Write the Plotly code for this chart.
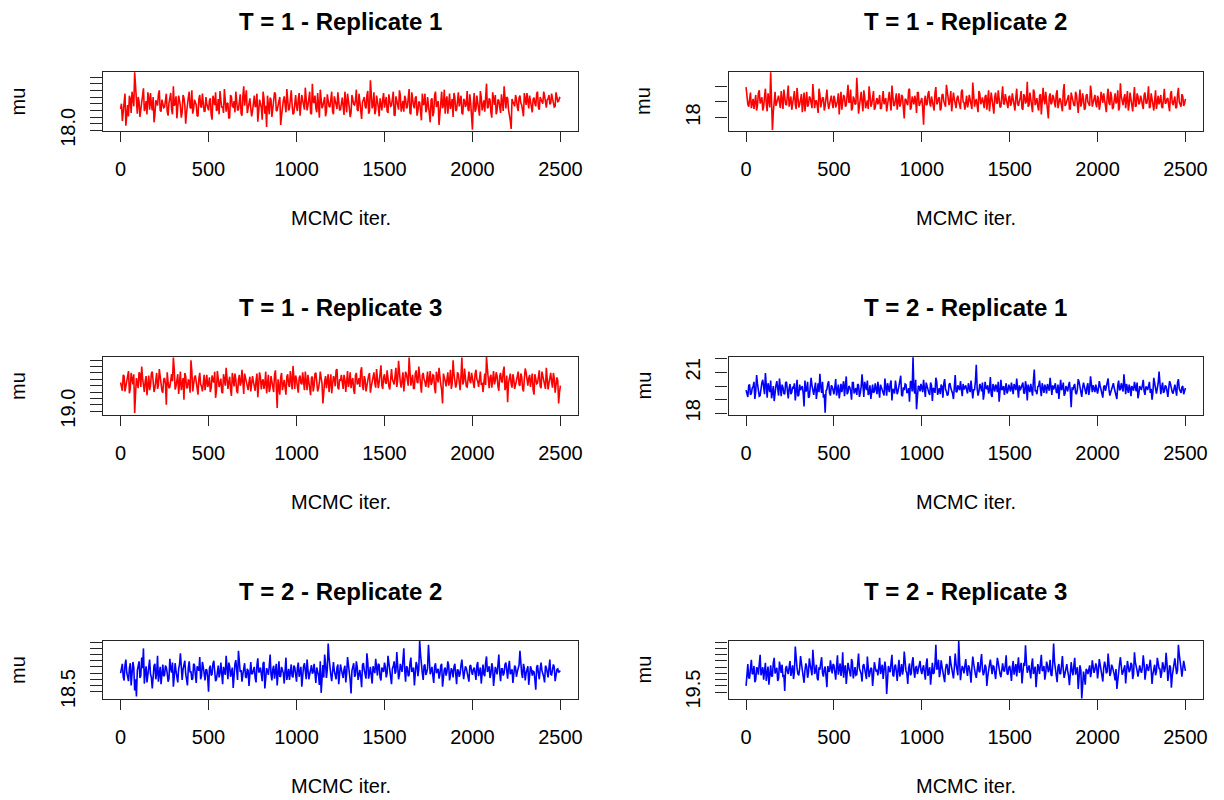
import plotly.graph_objects as go

# MCMC iterations: values at 0,10,...,2500 and 5,15,...,2495
iters_a = list(range(0, 2501, 10))
iters_b = list(range(5, 2500, 10))

titles = ["T = 1 - Replicate 1", "T = 1 - Replicate 2",
          "T = 1 - Replicate 3", "T = 2 - Replicate 1",
          "T = 2 - Replicate 2", "T = 2 - Replicate 3"]

mu_t1_r1_a = [
    18.32, 18.14, 18.45, 18.07, 18.38, 18.52, 18.26, 18.44, 18.87, 18.31, 18.50, 18.20, 18.42, 18.63, 18.34, 18.24, 18.48, 18.56, 18.30, 18.12, 18.45, 18.37, 18.60, 18.28, 18.41,
    18.35, 18.55, 18.22, 18.47, 18.31, 18.66, 18.40, 18.18, 18.52, 18.36, 18.27, 18.49, 18.10, 18.43, 18.58, 18.33, 18.25, 18.46, 18.38, 18.21, 18.53, 18.34, 18.44, 18.29, 18.39,
    18.30, 18.48, 18.16, 18.40, 18.57, 18.32, 18.24, 18.45, 18.36, 18.62, 18.28, 18.41, 18.19, 18.50, 18.35, 18.27, 18.44, 18.31, 18.54, 18.22, 18.66, 18.47, 18.26, 18.42, 18.33,
    18.29, 18.52, 18.37, 18.13, 18.46, 18.34, 18.58, 18.25, 18.05, 18.31, 18.49, 18.20, 18.39, 18.55, 18.30, 18.44, 18.08, 18.36, 18.51, 18.27, 18.42, 18.33, 18.60, 18.24, 18.40,
    18.35, 18.47, 18.22, 18.53, 18.38, 18.64, 18.30, 18.45, 18.26, 18.70, 18.41, 18.33, 18.56, 18.19, 18.44, 18.37, 18.50, 18.28, 18.42, 18.35, 18.58, 18.24, 18.46, 18.32, 18.39,
    18.31, 18.49, 18.23, 18.40, 18.55, 18.34, 18.27, 18.46, 18.38, 18.61, 18.29, 18.43, 18.17, 18.48, 18.36, 18.52, 18.25, 18.75, 18.33, 18.57, 18.30, 18.45, 18.21, 18.39, 18.47,
    18.34, 18.50, 18.26, 18.43, 18.37, 18.58, 18.22, 18.45, 18.31, 18.53, 18.40, 18.28, 18.47, 18.35, 18.62, 18.24, 18.44, 18.33, 18.51, 18.29, 18.42, 18.15, 18.38, 18.55, 18.32,
    18.36, 18.12, 18.48, 18.27, 18.58, 18.40, 18.08, 18.52, 18.33, 18.61, 18.45, 18.25, 18.55, 18.38, 18.20, 18.49, 18.31, 18.57, 18.43, 18.26, 18.47, 18.35, 18.59, 18.29, 18.41,
    18.01, 18.56, 18.32, 18.44, 18.22, 18.50, 18.37, 18.28, 18.70, 18.35, 18.46, 18.19, 18.41, 18.53, 18.30, 18.45, 18.26, 18.38, 18.66, 18.33, 18.48, 18.24, 18.02, 18.43, 18.36,
    18.47, 18.29, 18.52, 18.38, 18.21, 18.44, 18.56, 18.33, 18.41, 18.27, 18.49, 18.36, 18.58, 18.31, 18.45, 18.40, 18.52, 18.34, 18.47, 18.39, 18.55, 18.42, 18.36, 18.50, 18.44,
    18.48]
mu_t1_r1_b = [
    18.40, 18.27, 18.55, 18.33, 18.21, 18.47, 18.58, 18.36, 18.62, 18.25, 18.43, 18.35, 18.52, 18.29, 18.44, 18.57, 18.31, 18.39, 18.50, 18.23, 18.42, 18.54, 18.30, 18.46, 18.34,
    18.48, 18.28, 18.41, 18.56, 18.24, 18.37, 18.51, 18.30, 18.45, 18.19, 18.53, 18.38, 18.27, 18.49, 18.34, 18.60, 18.32, 18.43, 18.22, 18.47, 18.36, 18.55, 18.28, 18.50, 18.33,
    18.45, 18.23, 18.52, 18.38, 18.29, 18.47, 18.59, 18.34, 18.26, 18.49, 18.40, 18.18, 18.53, 18.36, 18.44, 18.58, 18.30, 18.42, 18.25, 18.51, 18.37, 18.60, 18.32, 18.48, 18.21,
    18.43, 18.35, 18.55, 18.28, 18.40, 18.16, 18.48, 18.37, 18.52, 18.24, 18.46, 18.33, 18.57, 18.29, 18.41, 18.50, 18.22, 18.45, 18.35, 18.62, 18.30, 18.47, 18.38, 18.26, 18.53,
    18.29, 18.56, 18.39, 18.45, 18.31, 18.49, 18.37, 18.58, 18.24, 18.43, 18.52, 18.27, 18.40, 18.61, 18.33, 18.47, 18.21, 18.54, 18.36, 18.44, 18.28, 18.51, 18.38, 18.57, 18.30,
    18.44, 18.36, 18.58, 18.27, 18.47, 18.20, 18.53, 18.39, 18.45, 18.31, 18.55, 18.26, 18.42, 18.50, 18.33, 18.59, 18.29, 18.46, 18.38, 18.24, 18.52, 18.35, 18.48, 18.30, 18.56,
    18.41, 18.29, 18.54, 18.36, 18.47, 18.23, 18.51, 18.39, 18.60, 18.28, 18.44, 18.52, 18.33, 18.45, 18.26, 18.57, 18.37, 18.49, 18.22, 18.43, 18.31, 18.55, 18.40, 18.27, 18.50,
    18.30, 18.46, 18.21, 18.53, 18.35, 18.44, 18.27, 18.58, 18.38, 18.25, 18.51, 18.40, 18.32, 18.47, 18.56, 18.29, 18.42, 18.36, 18.52, 18.24, 18.45, 18.39, 18.31, 18.54, 18.22,
    18.40, 18.28, 18.52, 18.36, 18.59, 18.30, 18.45, 18.55, 18.33, 18.48, 18.27, 18.57, 18.38, 18.24, 18.46, 18.35, 18.54, 18.29, 18.42, 18.50, 18.31, 18.15, 18.47, 18.37, 18.53,
    18.35, 18.49, 18.41, 18.30, 18.56, 18.38, 18.45, 18.52, 18.29, 18.47, 18.40, 18.55, 18.34, 18.50, 18.43, 18.58, 18.37, 18.46, 18.53, 18.41, 18.48, 18.35, 18.57, 18.43, 18.49]

mu_t1_r2_a = [
    19.95, 18.85, 19.40, 18.60, 19.20, 19.05, 18.45, 19.55, 18.90, 19.30, 18.70, 19.85, 18.40, 19.15, 20.90, 17.20, 19.35, 18.75, 19.10, 18.95, 19.70, 18.55, 19.25, 18.80, 20.05,
    19.05, 18.50, 19.45, 18.85, 19.90, 18.65, 19.20, 18.35, 19.60, 19.00, 18.70, 19.35, 18.95, 20.15, 18.60, 19.10, 18.30, 19.50, 18.90, 19.25, 18.75, 19.80, 18.55, 19.15, 18.95,
    19.40, 18.65, 19.05, 18.20, 19.65, 18.90, 19.30, 18.80, 20.10, 19.00, 18.45, 19.35, 18.85, 20.55, 18.25, 19.20, 18.95, 19.75, 18.60, 19.10, 20.00, 18.70, 19.25, 18.50, 19.05,
    18.85, 19.45, 18.60, 19.70, 19.10, 18.40, 19.30, 18.95, 20.05, 18.75, 19.20, 18.50, 19.55, 18.90, 19.35, 17.95, 19.15, 18.80, 19.85, 18.65, 19.00, 19.40, 18.30, 19.60, 18.90,
    19.25, 17.55, 19.40, 18.85, 19.70, 18.70, 19.05, 18.45, 19.95, 18.95, 19.30, 18.60, 19.50, 18.80, 20.10, 18.90, 19.15, 18.40, 19.60, 18.75, 19.25, 19.05, 18.55, 19.80, 18.95,
    19.10, 18.65, 19.45, 18.85, 20.25, 18.70, 19.20, 18.35, 19.55, 19.00, 18.80, 19.35, 18.50, 19.75, 18.95, 19.15, 18.25, 19.60, 18.90, 19.30, 18.70, 20.00, 18.85, 19.20, 18.60,
    19.40, 18.95, 19.05, 18.45, 19.85, 18.75, 19.25, 18.60, 19.50, 18.90, 20.30, 18.80, 19.15, 18.35, 19.65, 19.00, 18.70, 19.40, 18.20, 19.90, 18.85, 19.20, 17.95, 19.55, 18.95,
    19.30, 18.65, 19.75, 18.90, 19.10, 18.40, 20.15, 18.85, 19.35, 18.55, 19.60, 19.00, 18.75, 19.45, 18.30, 19.80, 18.95, 19.20, 18.60, 19.50, 18.85, 20.05, 18.70, 19.25, 18.90,
    19.40, 18.50, 19.65, 18.95, 19.15, 18.35, 19.85, 18.80, 19.30, 18.65, 19.55, 19.05, 18.45, 20.20, 18.90, 19.25, 18.60, 19.70, 18.85, 19.10, 18.40, 19.95, 18.75, 19.35, 18.95,
    19.20, 18.55, 19.60, 18.90, 20.00, 18.70, 19.30, 18.45, 19.75, 19.00, 18.85, 19.45, 18.60, 19.85, 18.95, 19.25, 18.40, 19.70, 18.80, 19.35, 18.65, 19.90, 18.85, 19.50, 18.75,
    19.20]
mu_t1_r2_b = [
    19.30, 18.70, 19.60, 19.00, 18.55, 19.45, 18.80, 19.75, 19.10, 18.45, 19.35, 18.90, 19.55, 18.65, 19.25, 18.35, 19.65, 18.95, 19.40, 18.60, 19.15, 19.80, 18.85, 19.45, 18.70,
    19.35, 18.90, 19.70, 18.55, 19.20, 18.85, 19.50, 18.95, 18.40, 19.65, 18.80, 19.25, 18.60, 19.55, 19.05, 18.75, 19.85, 18.65, 19.30, 18.45, 19.60, 19.00, 18.85, 19.40, 18.60,
    19.15, 18.80, 19.55, 19.05, 18.50, 19.45, 18.70, 19.30, 18.95, 19.80, 18.60, 19.20, 18.90, 19.50, 18.75, 19.65, 18.40, 19.35, 19.00, 18.55, 19.45, 18.85, 19.70, 18.65, 19.25,
    19.00, 18.55, 19.40, 18.85, 19.25, 18.95, 19.65, 18.45, 19.30, 18.80, 19.55, 19.00, 18.70, 19.45, 18.60, 19.20, 18.90, 19.75, 18.50, 19.35, 18.85, 19.10, 19.60, 18.75, 19.20,
    18.60, 19.10, 18.80, 19.50, 18.95, 19.35, 18.55, 19.60, 18.85, 19.25, 18.45, 19.45, 19.05, 18.70, 19.55, 18.80, 19.70, 18.95, 19.20, 18.60, 19.40, 18.85, 19.65, 19.00, 18.50,
    19.40, 18.90, 19.10, 18.55, 19.55, 19.00, 18.75, 19.70, 18.85, 19.30, 18.60, 19.45, 19.05, 18.40, 19.60, 18.80, 19.35, 18.95, 19.75, 18.65, 19.20, 18.90, 19.50, 18.70, 19.30,
    18.75, 19.55, 18.60, 19.30, 18.90, 19.05, 19.70, 18.50, 19.35, 19.05, 18.70, 19.60, 18.95, 19.80, 18.80, 19.25, 18.45, 19.50, 18.85, 19.15, 19.65, 18.60, 19.35, 18.85, 19.45,
    18.95, 19.50, 18.60, 19.25, 18.85, 19.70, 18.75, 19.05, 19.45, 18.55, 19.30, 18.80, 19.65, 18.95, 19.15, 18.70, 19.55, 18.50, 19.40, 19.00, 18.75, 19.60, 18.90, 19.45, 18.65,
    19.20, 18.85, 19.05, 19.55, 18.70, 19.40, 18.95, 19.65, 18.55, 19.15, 18.90, 19.75, 18.65, 19.35, 18.80, 19.50, 19.00, 18.45, 19.60, 18.90, 19.25, 18.70, 19.55, 18.85, 19.40,
    18.80, 19.45, 18.95, 19.30, 18.60, 19.55, 18.85, 19.15, 18.55, 19.40, 19.05, 18.70, 19.65, 18.90, 19.20, 18.75, 19.50, 18.95, 19.10, 18.60, 19.45, 19.00, 18.70, 19.35, 18.90]

mu_t1_r3_a = [
    19.45, 19.32, 19.55, 19.38, 19.50, 19.28, 19.60, 19.42, 18.97, 19.52, 19.36, 19.58, 19.70, 19.33, 19.47, 19.25, 19.56, 19.40, 19.62, 19.30, 19.48, 19.35, 19.66, 19.44, 19.29,
    19.52, 19.10, 19.45, 19.38, 19.58, 19.84, 19.34, 19.50, 19.27, 19.62, 19.41, 19.18, 19.55, 19.37, 19.48, 19.80, 19.31, 19.53, 19.44, 19.26, 19.60, 19.39, 19.49, 19.33, 19.57,
    19.42, 19.30, 19.56, 19.45, 19.21, 19.63, 19.38, 19.51, 19.28, 19.47, 19.68, 19.35, 19.54, 19.24, 19.44, 19.59, 19.32, 19.49, 19.40, 19.65, 19.27, 19.52, 19.37, 19.46, 19.31,
    19.55, 19.39, 19.48, 19.22, 19.61, 19.34, 19.50, 19.43, 19.28, 19.57, 19.36, 19.47, 19.30, 19.64, 19.05, 19.41, 19.53, 19.33, 19.49, 19.26, 19.58, 19.38, 19.46, 19.71, 19.35,
    19.50, 19.29, 19.56, 19.42, 19.37, 19.62, 19.33, 19.48, 19.25, 19.54, 19.40, 19.60, 19.31, 19.45, 19.52, 19.12, 19.47, 19.36, 19.58, 19.43, 19.28, 19.55, 19.39, 19.66, 19.34,
    19.49, 19.41, 19.57, 19.30, 19.63, 19.45, 19.36, 19.52, 19.27, 19.60, 19.44, 19.38, 19.69, 19.33, 19.50, 19.42, 19.56, 19.29, 19.47, 19.61, 19.37, 19.53, 19.46, 19.72, 19.35,
    19.58, 19.43, 19.50, 19.34, 19.66, 19.47, 19.55, 19.38, 19.79, 19.45, 19.52, 19.31, 19.62, 19.48, 19.84, 19.40, 19.57, 19.36, 19.64, 19.44, 19.53, 19.29, 19.60, 19.46, 19.51,
    19.37, 19.63, 19.45, 19.56, 19.28, 19.49, 19.68, 19.42, 19.12, 19.54, 19.39, 19.61, 19.47, 19.35, 19.80, 19.50, 19.43, 19.58, 19.33, 19.84, 19.46, 19.55, 19.38, 19.62, 19.44,
    19.52, 19.36, 19.65, 19.47, 19.57, 19.41, 19.30, 19.59, 19.85, 19.44, 19.53, 19.37, 19.63, 19.48, 19.55, 19.32, 19.60, 19.45, 19.70, 19.39, 19.14, 19.51, 19.43, 19.58, 19.35,
    19.48, 19.62, 19.40, 19.54, 19.31, 19.67, 19.45, 19.52, 19.38, 19.59, 19.26, 19.50, 19.44, 19.64, 19.36, 19.55, 19.42, 19.68, 19.34, 19.51, 19.46, 19.60, 19.29, 19.53, 19.12,
    19.40]
mu_t1_r3_b = [
    19.40, 19.57, 19.31, 19.49, 19.63, 19.35, 19.46, 19.58, 19.27, 19.44, 19.61, 19.38, 19.52, 19.30, 19.55, 19.42, 19.33, 19.59, 19.47, 19.36, 19.60, 19.41, 19.53, 19.32, 19.50,
    19.43, 19.61, 19.36, 19.54, 19.47, 19.66, 19.39, 19.58, 19.44, 19.33, 19.52, 19.60, 19.37, 19.49, 19.29, 19.63, 19.45, 19.56, 19.35, 19.51, 19.42, 19.31, 19.57, 19.44, 19.38,
    19.53, 19.37, 19.48, 19.62, 19.33, 19.51, 19.44, 19.30, 19.58, 19.40, 19.55, 19.46, 19.34, 19.60, 19.39, 19.50, 19.28, 19.57, 19.45, 19.36, 19.59, 19.43, 19.33, 19.54, 19.41,
    19.46, 19.32, 19.59, 19.40, 19.53, 19.47, 19.35, 19.62, 19.42, 19.30, 19.55, 19.44, 19.57, 19.38, 19.50, 19.26, 19.60, 19.45, 19.37, 19.54, 19.41, 19.63, 19.34, 19.49, 19.56,
    19.38, 19.52, 19.44, 19.61, 19.33, 19.48, 19.57, 19.40, 19.53, 19.31, 19.59, 19.46, 19.36, 19.62, 19.43, 19.35, 19.55, 19.48, 19.30, 19.58, 19.42, 19.51, 19.64, 19.37, 19.50,
    19.57, 19.35, 19.49, 19.45, 19.38, 19.61, 19.47, 19.33, 19.56, 19.42, 19.52, 19.63, 19.40, 19.55, 19.31, 19.48, 19.60, 19.39, 19.54, 19.44, 19.66, 19.36, 19.58, 19.41, 19.53,
    19.45, 19.64, 19.39, 19.57, 19.50, 19.42, 19.68, 19.48, 19.55, 19.37, 19.61, 19.44, 19.58, 19.40, 19.63, 19.49, 19.35, 19.59, 19.46, 19.70, 19.41, 19.56, 19.50, 19.38, 19.62,
    19.53, 19.41, 19.57, 19.36, 19.62, 19.45, 19.51, 19.33, 19.59, 19.47, 19.55, 19.40, 19.65, 19.44, 19.58, 19.37, 19.61, 19.49, 19.56, 19.42, 19.67, 19.39, 19.52, 19.48, 19.60,
    19.43, 19.58, 19.50, 19.38, 19.62, 19.45, 19.54, 19.41, 19.66, 19.36, 19.57, 19.49, 19.42, 19.61, 19.39, 19.55, 19.47, 19.63, 19.33, 19.56, 19.44, 19.59, 19.37, 19.50, 19.46,
    19.55, 19.42, 19.59, 19.36, 19.50, 19.61, 19.40, 19.57, 19.46, 19.33, 19.58, 19.43, 19.54, 19.39, 19.62, 19.47, 19.35, 19.56, 19.44, 19.60, 19.37, 19.52, 19.41, 19.48, 19.30]

mu_t2_r1_a = [
    19.70, 19.20, 20.10, 19.45, 19.95, 19.05, 20.80, 19.60, 19.30, 20.25, 19.85, 20.95, 19.15, 19.75, 20.40, 19.50, 18.90, 20.05, 19.65, 20.55, 19.25, 19.90, 19.40, 20.30, 19.10,
    20.15, 19.55, 19.80, 18.95, 20.45, 19.35, 19.70, 20.00, 18.50, 19.60, 20.30, 19.20, 20.60, 19.45, 19.85, 19.05, 20.20, 20.90, 19.50, 19.15, 18.05, 19.75, 20.35, 19.30, 19.95,
    19.40, 20.50, 19.65, 19.10, 20.15, 19.85, 19.25, 20.70, 19.55, 19.90, 19.00, 20.25, 19.70, 19.35, 20.05, 19.50, 20.85, 19.20, 19.80, 20.40, 19.45, 19.05, 20.10, 19.60, 19.75,
    20.30, 19.15, 19.90, 19.50, 20.55, 19.30, 19.85, 20.15, 18.95, 19.65, 20.40, 19.40, 19.95, 20.75, 19.25, 19.70, 20.10, 19.55, 18.85, 20.35, 22.10, 19.45, 18.30, 20.00, 19.60,
    19.80, 20.45, 19.20, 19.95, 19.50, 20.25, 18.90, 19.75, 20.60, 19.35, 19.85, 20.10, 19.15, 20.50, 19.60, 19.40, 20.20, 19.70, 19.05, 20.80, 19.55, 19.90, 20.35, 19.25, 19.75,
    20.05, 19.45, 19.85, 20.40, 19.10, 19.70, 21.55, 19.30, 20.15, 19.60, 19.00, 20.30, 19.80, 19.45, 20.65, 19.20, 19.90, 20.10, 19.55, 18.85, 20.45, 19.75, 19.35, 20.20, 19.65,
    19.85, 20.25, 19.40, 19.95, 20.55, 19.15, 19.70, 20.05, 19.50, 20.35, 18.95, 19.80, 20.15, 19.30, 21.20, 19.65, 19.95, 20.40, 19.25, 19.75, 20.10, 19.45, 19.90, 20.60, 19.35,
    19.75, 20.20, 19.50, 19.05, 20.45, 19.85, 19.30, 20.00, 19.60, 20.30, 18.45, 19.70, 20.15, 19.40, 20.50, 19.90, 19.20, 20.25, 19.65, 19.95, 19.35, 20.70, 19.55, 19.80, 20.10,
    19.45, 20.35, 19.70, 19.15, 20.05, 19.90, 20.55, 19.30, 19.80, 20.20, 19.55, 19.05, 20.40, 19.75, 19.95, 20.85, 19.40, 19.65, 20.10, 19.25, 19.85, 20.30, 19.60, 19.10, 20.00,
    19.75, 20.45, 19.35, 19.90, 20.15, 19.50, 19.00, 20.60, 19.70, 19.85, 21.05, 19.40, 20.25, 19.60, 19.95, 19.20, 20.35, 19.75, 19.45, 20.10, 19.30, 20.50, 19.65, 19.90, 19.40,
    19.85]
mu_t2_r1_b = [
    19.50, 20.05, 19.35, 19.85, 20.30, 19.60, 20.15, 19.25, 19.95, 20.45, 19.40, 19.70, 20.20, 19.55, 19.10, 20.00, 19.75, 20.35, 19.30, 19.90, 20.10, 19.45, 20.25, 19.65, 19.85,
    19.40, 19.95, 20.20, 19.60, 19.25, 20.10, 19.85, 19.45, 20.40, 19.70, 19.15, 19.90, 20.05, 19.35, 20.25, 19.80, 19.55, 19.95, 20.30, 19.40, 19.65, 20.15, 19.50, 20.05, 19.70,
    19.90, 19.30, 20.10, 19.75, 19.55, 20.35, 19.95, 19.40, 20.00, 19.65, 20.25, 19.45, 19.85, 20.15, 19.20, 19.95, 19.60, 20.30, 19.70, 19.35, 20.05, 19.80, 19.50, 20.20, 19.40,
    19.65, 20.10, 19.75, 19.30, 19.95, 20.20, 19.55, 20.40, 19.80, 19.45, 20.00, 19.65, 20.25, 19.35, 19.90, 20.15, 19.50, 19.85, 20.30, 19.60, 19.75, 20.45, 19.20, 19.95, 20.15,
    19.55, 19.95, 20.25, 19.70, 19.35, 20.05, 19.85, 19.50, 20.30, 19.65, 19.40, 19.95, 20.20, 19.75, 19.30, 20.10, 19.85, 19.45, 20.35, 19.60, 20.05, 19.70, 19.40, 20.15, 19.90,
    19.70, 20.20, 19.55, 19.90, 19.75, 20.35, 19.80, 19.60, 19.95, 20.25, 19.45, 19.85, 20.05, 19.70, 19.35, 20.15, 19.60, 19.95, 20.30, 19.50, 19.75, 20.00, 19.85, 19.45, 20.10,
    19.60, 19.90, 20.15, 19.70, 19.35, 20.05, 19.85, 20.25, 19.45, 19.95, 20.10, 19.55, 19.80, 20.40, 19.65, 19.40, 20.00, 19.75, 20.20, 19.50, 19.90, 20.15, 19.65, 19.80, 20.05,
    19.95, 19.55, 20.10, 19.80, 19.70, 20.25, 19.45, 19.85, 20.05, 19.60, 19.90, 20.00, 19.50, 19.75, 20.30, 19.60, 19.85, 19.95, 19.40, 20.20, 19.75, 19.95, 20.05, 19.55, 19.85,
    19.80, 20.00, 19.45, 19.95, 19.65, 20.25, 19.75, 19.55, 20.10, 19.85, 19.40, 20.05, 19.70, 20.20, 19.60, 19.90, 20.15, 19.50, 19.85, 20.00, 19.65, 19.95, 20.25, 19.45, 19.80,
    20.05, 19.60, 19.95, 19.70, 20.30, 19.80, 19.55, 20.10, 19.45, 20.20, 19.75, 19.90, 19.50, 20.05, 19.65, 19.85, 20.15, 19.55, 19.95, 19.70, 20.25, 19.80, 19.50, 20.00, 19.70]

mu_t2_r2_a = [
    18.80, 18.95, 18.68, 19.02, 18.75, 18.88, 18.60, 18.98, 18.52, 18.42, 18.90, 18.72, 19.05, 19.20, 18.82, 18.65, 18.97, 18.78, 18.55, 18.92, 18.70, 19.08, 18.84, 18.62, 18.94,
    18.77, 18.89, 18.66, 19.03, 18.81, 18.58, 18.96, 18.74, 18.87, 19.12, 18.69, 18.91, 18.79, 18.60, 18.99, 18.83, 18.71, 18.93, 18.64, 18.86, 19.06, 18.76, 18.90, 18.68, 18.85,
    18.50, 18.92, 18.78, 19.00, 18.67, 18.88, 18.73, 18.97, 18.62, 18.84, 19.08, 18.70, 18.91, 18.80, 18.56, 18.95, 18.76, 19.16, 18.82, 18.66, 18.93, 18.74, 18.87, 18.59, 18.98,
    18.79, 18.90, 18.65, 19.04, 18.83, 18.71, 18.96, 18.55, 18.88, 18.77, 19.10, 18.68, 18.92, 18.81, 18.60, 18.99, 18.75, 18.86, 18.63, 19.05, 18.80, 18.69, 18.94, 18.73, 18.89,
    18.66, 18.97, 18.82, 18.58, 18.91, 18.76, 19.02, 18.70, 18.87, 18.79, 18.95, 18.64, 18.83, 18.61, 18.48, 18.93, 19.10, 18.72, 19.28, 18.84, 18.67, 18.98, 18.77, 18.89, 18.62,
    18.94, 18.78, 18.86, 18.65, 19.06, 18.81, 18.47, 18.92, 18.74, 18.99, 18.69, 18.85, 18.57, 18.96, 18.80, 19.12, 18.71, 18.90, 18.63, 18.87, 19.03, 18.76, 18.93, 18.68, 18.84,
    18.97, 18.73, 19.08, 18.85, 18.62, 18.91, 18.79, 19.14, 18.70, 18.95, 18.82, 19.20, 18.66, 18.89, 18.77, 19.05, 18.84, 18.60, 18.98, 18.75, 19.32, 18.87, 18.69, 18.94, 18.81,
    19.26, 18.78, 18.90, 18.64, 18.96, 18.83, 18.71, 18.92, 18.58, 18.86, 18.76, 18.99, 18.68, 18.88, 18.73, 18.95, 18.62, 18.84, 18.79, 19.02, 18.70, 18.91, 18.82, 18.66, 18.93,
    18.77, 18.89, 18.69, 18.98, 18.81, 18.63, 18.94, 18.75, 19.07, 18.85, 18.72, 18.96, 18.59, 18.90, 18.78, 19.10, 18.67, 18.87, 18.80, 18.97, 18.71, 19.00, 18.84, 18.64, 18.92,
    18.74, 18.88, 19.16, 18.79, 18.95, 18.68, 18.86, 18.61, 18.91, 18.76, 18.82, 18.53, 18.93, 18.70, 18.97, 18.80, 18.65, 18.89, 18.73, 19.02, 18.77, 18.94, 18.67, 18.86, 18.81,
    18.84]
mu_t2_r2_b = [
    18.86, 18.74, 18.93, 18.81, 18.67, 18.96, 18.78, 18.89, 18.70, 18.84, 18.99, 18.76, 18.88, 18.63, 18.91, 18.80, 19.02, 18.73, 18.85, 18.95, 18.79, 18.66, 18.90, 18.82, 18.75,
    18.92, 18.80, 18.71, 18.87, 18.97, 18.74, 18.83, 18.65, 18.94, 18.78, 18.86, 19.00, 18.72, 18.89, 18.81, 18.69, 18.95, 18.77, 18.91, 18.84, 18.70, 18.98, 18.79, 18.86, 18.73,
    18.88, 18.76, 18.95, 18.83, 18.70, 18.92, 18.80, 18.68, 18.90, 18.77, 18.86, 18.97, 18.74, 18.89, 18.82, 19.01, 18.69, 18.93, 18.85, 18.78, 18.96, 18.72, 18.84, 18.91, 18.79,
    18.85, 18.72, 18.93, 18.81, 18.89, 18.67, 18.98, 18.76, 18.84, 18.91, 18.78, 18.86, 18.71, 18.95, 18.83, 18.74, 18.90, 18.80, 18.97, 18.69, 18.87, 18.82, 18.75, 18.92, 18.78,
    18.88, 18.74, 18.90, 18.81, 18.96, 18.70, 18.85, 18.78, 18.93, 18.82, 18.72, 18.89, 18.76, 18.99, 18.80, 18.73, 18.95, 18.86, 19.05, 18.77, 18.91, 18.83, 18.70, 18.94, 18.80,
    18.86, 18.72, 18.92, 18.79, 18.88, 18.68, 18.84, 18.96, 18.77, 18.90, 18.81, 18.74, 18.93, 18.85, 18.71, 18.98, 18.83, 18.76, 18.91, 18.80, 18.87, 18.95, 18.73, 18.89, 18.82,
    18.90, 18.80, 18.94, 18.76, 18.87, 18.99, 18.83, 18.92, 18.78, 18.88, 19.01, 18.84, 18.91, 18.75, 18.96, 18.82, 18.89, 18.79, 18.93, 18.86, 19.10, 18.80, 18.92, 18.77, 18.88,
    19.03, 18.84, 18.76, 18.91, 18.80, 18.87, 18.78, 18.95, 18.73, 18.89, 18.82, 18.92, 18.77, 18.84, 18.90, 18.79, 18.86, 18.74, 18.93, 18.85, 18.81, 18.88, 18.75, 18.91, 18.83,
    18.86, 18.80, 18.92, 18.75, 18.89, 18.83, 18.78, 18.97, 18.82, 18.91, 18.79, 18.88, 18.74, 18.85, 18.93, 18.81, 18.87, 18.76, 18.94, 18.84, 18.90, 18.78, 18.86, 18.80, 18.89,
    18.82, 18.93, 18.85, 18.72, 18.88, 18.80, 18.91, 18.77, 18.86, 18.83, 18.69, 18.90, 18.79, 18.87, 18.84, 18.74, 18.92, 18.81, 18.88, 18.78, 18.85, 18.90, 18.76, 18.87, 18.83]

mu_t2_r3_a = [
    19.60, 19.95, 19.72, 20.02, 19.80, 19.66, 19.90, 19.78, 20.10, 19.85, 19.70, 19.97, 19.82, 19.62, 19.93, 19.76, 20.05, 19.87, 19.68, 19.99, 19.81, 19.74, 19.52, 19.92, 19.79,
    20.00, 19.86, 19.71, 20.23, 19.89, 19.77, 20.08, 19.83, 19.65, 19.96, 19.73, 20.04, 19.88, 20.18, 19.79, 19.94, 19.69, 19.86, 20.06, 19.75, 19.91, 19.58, 19.84, 20.01, 19.80,
    19.93, 19.70, 20.09, 19.85, 19.76, 20.14, 19.88, 19.63, 19.97, 19.81, 20.03, 19.72, 19.90, 19.78, 20.12, 19.84, 19.67, 19.95, 19.80, 20.07, 19.74, 19.89, 19.60, 19.98, 19.83,
    19.77, 20.05, 19.86, 19.71, 19.99, 19.47, 19.92, 19.82, 20.10, 19.75, 19.94, 19.68, 20.02, 19.87, 19.78, 20.15, 19.84, 19.63, 19.96, 19.80, 20.06, 19.73, 19.91, 19.85, 20.00,
    19.79, 19.93, 19.70, 20.04, 19.86, 19.62, 19.97, 19.81, 20.26, 19.89, 19.74, 20.01, 19.84, 19.66, 19.95, 19.78, 20.08, 19.87, 19.72, 20.12, 19.83, 20.32, 19.69, 19.92, 19.80,
    20.03, 19.76, 19.90, 19.65, 20.07, 19.85, 19.73, 19.98, 19.82, 20.11, 19.77, 19.94, 19.60, 19.88, 20.02, 19.79, 19.91, 19.71, 20.05, 19.86, 19.74, 19.96, 19.83, 20.09, 19.78,
    19.92, 19.68, 20.00, 19.84, 19.75, 20.06, 19.89, 19.64, 19.97, 20.25, 19.81, 19.93, 19.72, 20.04, 19.87, 19.58, 19.95, 19.79, 20.10, 19.85, 19.70, 19.99, 19.82, 20.02, 19.76,
    20.28, 19.88, 19.66, 19.95, 19.80, 20.08, 19.73, 19.91, 19.84, 19.61, 19.98, 19.77, 20.05, 19.86, 19.55, 19.93, 19.40, 19.83, 19.62, 19.85, 19.90, 19.74, 20.01, 19.81, 19.96,
    19.72, 20.03, 19.87, 19.67, 19.99, 19.80, 20.12, 19.76, 19.94, 19.85, 19.69, 19.55, 19.92, 20.06, 19.78, 19.88, 19.64, 20.00, 19.82, 19.97, 19.71, 20.14, 19.86, 19.75, 19.93,
    19.81, 20.09, 19.70, 19.95, 19.84, 20.02, 19.63, 19.90, 19.77, 20.05, 19.88, 19.73, 19.98, 19.82, 20.13, 19.68, 19.93, 19.57, 19.86, 20.04, 19.79, 20.26, 19.91, 19.75, 20.00,
    19.84]
mu_t2_r3_b = [
    19.84, 19.73, 19.88, 19.79, 19.92, 19.70, 19.87, 19.95, 19.77, 19.90, 19.82, 19.68, 19.91, 19.85, 19.75, 19.97, 19.80, 19.89, 19.72, 19.86, 19.94, 19.78, 19.88, 19.83, 19.90,
    19.76, 19.93, 19.82, 20.00, 19.79, 19.88, 19.96, 19.74, 19.85, 19.91, 19.81, 19.94, 19.77, 19.99, 19.84, 19.72, 19.90, 19.97, 19.80, 19.87, 19.75, 19.92, 19.83, 19.89, 19.95,
    19.82, 19.91, 19.78, 19.96, 19.86, 19.73, 19.93, 19.80, 19.89, 19.75, 19.98, 19.84, 19.77, 19.95, 19.88, 19.79, 19.92, 19.85, 19.71, 19.94, 19.81, 19.87, 19.76, 19.90, 19.86,
    19.90, 19.79, 19.94, 19.82, 19.88, 19.70, 19.85, 19.97, 19.78, 19.91, 19.83, 19.87, 19.75, 19.95, 19.86, 19.92, 19.80, 19.89, 19.77, 19.98, 19.84, 19.90, 19.79, 19.93, 19.85,
    19.88, 19.81, 19.95, 19.76, 19.90, 19.84, 19.79, 19.96, 19.86, 20.02, 19.82, 19.91, 19.78, 19.87, 19.93, 19.80, 19.97, 19.84, 19.89, 19.95, 19.77, 20.05, 19.83, 19.88, 19.92,
    19.85, 19.93, 19.80, 19.89, 19.96, 19.78, 19.91, 19.84, 19.99, 19.87, 19.82, 19.90, 19.75, 19.94, 19.86, 19.92, 19.81, 19.88, 19.97, 19.79, 19.90, 19.85, 19.93, 19.80, 19.89,
    19.83, 19.90, 19.78, 19.95, 19.88, 19.81, 19.97, 19.85, 19.92, 20.00, 19.87, 19.82, 19.94, 19.79, 19.91, 19.74, 19.89, 19.96, 19.84, 19.92, 19.80, 19.93, 19.87, 19.78, 19.95,
    19.99, 19.82, 19.91, 19.79, 19.93, 19.86, 19.80, 19.95, 19.76, 19.88, 19.84, 19.92, 19.78, 19.90, 19.70, 19.85, 19.60, 19.74, 19.87, 19.79, 19.93, 19.82, 19.89, 19.86, 19.91,
    19.84, 19.94, 19.79, 19.89, 19.92, 19.83, 19.96, 19.81, 19.90, 19.78, 19.87, 19.72, 19.95, 19.88, 19.82, 19.93, 19.80, 19.91, 19.86, 19.94, 19.79, 19.98, 19.84, 19.89, 19.85,
    19.90, 19.95, 19.82, 19.88, 19.93, 19.86, 19.79, 19.94, 19.83, 19.97, 19.87, 19.81, 19.92, 19.89, 19.96, 19.78, 19.90, 19.76, 19.93, 19.91, 19.85, 20.10, 19.88, 19.84, 19.92]

series_a = [mu_t1_r1_a, mu_t1_r2_a, mu_t1_r3_a, mu_t2_r1_a, mu_t2_r2_a, mu_t2_r3_a]
series_b = [mu_t1_r1_b, mu_t1_r2_b, mu_t1_r3_b, mu_t2_r1_b, mu_t2_r2_b, mu_t2_r3_b]
colors = ["#FF0000", "#FF0000", "#FF0000", "#0000FF", "#0000FF", "#0000FF"]

y_ranges = [[17.99, 18.875], [17.14, 20.92], [18.94, 19.85],
            [17.88, 22.12], [18.38, 19.32], [19.39, 20.32]]
y_tickvals = [
    [18.0, 18.1, 18.2, 18.3, 18.4, 18.5, 18.6, 18.7, 18.8],
    [18, 19, 20],
    [19.0, 19.1, 19.2, 19.3, 19.4, 19.5, 19.6, 19.7, 19.8],
    [18, 19, 20, 21, 22],
    [18.5, 18.6, 18.7, 18.8, 18.9, 19.0, 19.1, 19.2, 19.3],
    [19.5, 19.6, 19.7, 19.8, 19.9, 20.0, 20.1, 20.2, 20.3],
]
y_ticktext = [
    ["18.0", "", "", "", "", "", "", "", ""],
    ["18", "", ""],
    ["19.0", "", "", "", "", "", "", "", ""],
    ["18", "", "", "21", ""],
    ["18.5", "", "", "", "", "", "", "", ""],
    ["19.5", "", "", "", "", "", "", "", ""],
]
x_tickvals = [0, 500, 1000, 1500, 2000, 2500]
x_label = "MCMC iter."
y_label = "mu"

W, H = 1224, 800
col_px = [(103, 578), (728.5, 1203)]   # pixel columns of plot boxes
row_px = [(72, 131), (357, 415), (641, 699)]
FONT = "Liberation Sans, Arial, Helvetica, sans-serif"
AXC = "#262626"


def fx(px):
    return px / W


def fy(py):
    return 1 - py / H


fig = go.Figure()
annotations = []
layout = dict(width=W, height=H, margin=dict(l=0, r=0, t=0, b=0, pad=0),
              paper_bgcolor="white", plot_bgcolor="white", showlegend=False,
              font=dict(family=FONT, color="black"))

for i in range(6):
    r, c = divmod(i, 2)
    n = i + 1
    sfx = "" if n == 1 else str(n)
    x0, x1 = col_px[c]
    top, bot = row_px[r]
    pts = sorted(list(zip(iters_a, series_a[i])) + list(zip(iters_b, series_b[i])))
    fig.add_trace(go.Scatter(x=[p[0] for p in pts], y=[p[1] for p in pts],
                             mode="lines",
                             line=dict(color=colors[i], width=1.6),
                             xaxis="x" + sfx, yaxis="y" + sfx,
                             hoverinfo="skip"))
    layout["xaxis" + sfx] = dict(
        domain=[fx(x0), fx(x1)], anchor="y" + sfx, range=[-100, 2600],
        tickvals=x_tickvals, ticks="outside", ticklen=10, tickwidth=1.2,
        tickcolor=AXC, showline=True, mirror=True, linecolor=AXC,
        linewidth=1.2, showgrid=False, zeroline=False, automargin=False,
        tickfont=dict(size=20, family=FONT, color="black"),
        ticklabelstandoff=10)
    layout["yaxis" + sfx] = dict(
        domain=[fy(bot), fy(top)], anchor="x" + sfx,
        range=y_ranges[i], tickvals=y_tickvals[i], ticktext=y_ticktext[i],
        ticks="outside", ticklen=12, tickwidth=1.2, tickcolor=AXC,
        showline=True, mirror=True, linecolor=AXC, linewidth=1.2,
        showgrid=False, zeroline=False, tickangle=-90, automargin=False,
        tickfont=dict(size=20, family=FONT, color="black"),
        ticklabelstandoff=7)
    cx = (x0 + x1) / 2
    annotations.append(dict(text="<b>" + titles[i] + "</b>", x=fx(cx),
                            y=fy(top - 50), xref="paper", yref="paper",
                            showarrow=False, xanchor="center", yanchor="middle",
                            font=dict(size=24, family=FONT, color="black")))
    annotations.append(dict(text=x_label, x=fx(cx), y=fy(bot + 87),
                            xref="paper", yref="paper", showarrow=False,
                            xanchor="center", yanchor="middle",
                            font=dict(size=20, family=FONT, color="black")))
    annotations.append(dict(text=y_label, x=fx(x0 - 85),
                            y=fy((top + bot) / 2), xref="paper",
                            yref="paper", showarrow=False, textangle=-90,
                            xanchor="center", yanchor="middle",
                            font=dict(size=20, family=FONT, color="black")))

layout["annotations"] = annotations
fig.update_layout(**layout)
# remove the default page margin so the figure fills the window exactly
fig.write_html("out.html", config={"displayModeBar": False}, post_script=(
    "document.body.style.margin='0';"
    "document.body.style.overflow='hidden';"
    "document.documentElement.style.overflow='hidden';"))
